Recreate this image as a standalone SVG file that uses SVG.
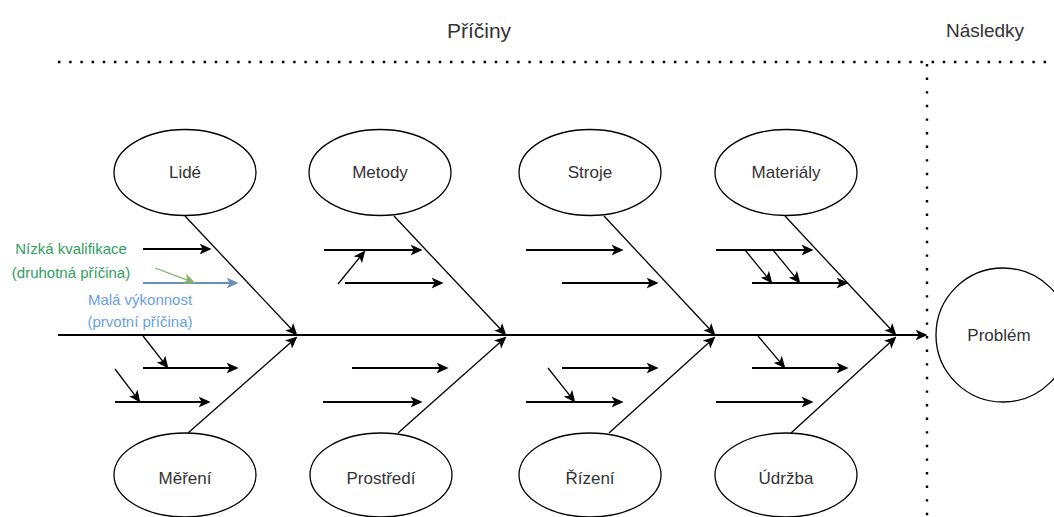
<svg xmlns="http://www.w3.org/2000/svg" width="1054" height="517" viewBox="0 0 1054 517">
<style>
.node{fill:#fff;stroke:#000;stroke-width:1.3}
.lbl{font-family:"Liberation Sans",Arial,sans-serif;font-size:17px;fill:#333;text-anchor:middle}
.hdr{font-family:"Liberation Sans",Arial,sans-serif;fill:#333;text-anchor:middle}
.rib{stroke:#000;stroke-width:1.3;fill:none;marker-end:url(#ab)}
.sub{stroke:#000;stroke-width:2;fill:none;marker-end:url(#ab)}
.dia{stroke:#000;stroke-width:1.3;fill:none;marker-end:url(#ab)}
.dot{stroke:#000;stroke-width:2.4;fill:none}
.note{font-family:"Liberation Sans",Arial,sans-serif;font-size:15px;text-anchor:middle}
</style>
<defs>
<marker id="ab" viewBox="0 0 10 9" markerUnits="userSpaceOnUse" markerWidth="12" markerHeight="11" refX="7" refY="4.5" orient="auto"><path d="M0,0 L10,4.5 L0,9 L2.5,4.5 Z" fill="#000"/></marker>
<marker id="abb" viewBox="0 0 10 9" markerUnits="userSpaceOnUse" markerWidth="12" markerHeight="11" refX="7" refY="4.5" orient="auto"><path d="M0,0 L10,4.5 L0,9 L2.5,4.5 Z" fill="#6C8EBF"/></marker>
<marker id="abg" viewBox="0 0 10 9" markerUnits="userSpaceOnUse" markerWidth="12" markerHeight="11" refX="7" refY="4.5" orient="auto"><path d="M0,0 L10,4.5 L0,9 L2.5,4.5 Z" fill="#82B366"/></marker>
</defs>
<rect width="1054" height="517" fill="#fff"/>
<g id="headers">
<text class="hdr" x="479" y="38" font-size="21">Příčiny</text>
<text class="hdr" x="985" y="37" font-size="19">Následky</text>
<line class="dot" x1="58" y1="62" x2="1054" y2="62" stroke-dasharray="2.4 8.8"/>
<line class="dot" x1="927" y1="64" x2="927" y2="517" stroke-dasharray="2.4 11.2"/>
</g>
<g id="connectors">
<line x1="58" y1="335" x2="924" y2="335" stroke="#000" stroke-width="2" marker-end="url(#ab)"/>
<line class="rib" x1="185" y1="216" x2="294.9" y2="332.8"/>
<line class="rib" x1="188" y1="433" x2="294.7" y2="339"/>
<line class="rib" x1="394" y1="216" x2="503.9" y2="332.8"/>
<line class="rib" x1="398" y1="433" x2="503.8" y2="339"/>
<line class="rib" x1="604" y1="216" x2="713" y2="332.8"/>
<line class="rib" x1="609" y1="433" x2="712.8" y2="339"/>
<line class="rib" x1="785" y1="216" x2="894" y2="332.8"/>
<line class="rib" x1="791" y1="433" x2="893.8" y2="339"/>
<line class="sub" x1="143" y1="249" x2="208" y2="249"/>
<line x1="143" y1="283" x2="235" y2="283" stroke="#6C8EBF" stroke-width="2" marker-end="url(#abb)"/>
<line x1="155" y1="268" x2="192.2" y2="281.9" stroke="#82B366" stroke-width="1.3" marker-end="url(#abg)"/>
<line class="dia" x1="143" y1="336" x2="166.2" y2="365.6"/>
<line class="sub" x1="143" y1="368" x2="235" y2="368"/>
<line class="dia" x1="115" y1="369" x2="138.2" y2="399.6"/>
<line class="sub" x1="115" y1="402" x2="207" y2="402"/>
<line class="sub" x1="324" y1="250" x2="419" y2="250"/>
<line class="sub" x1="345" y1="283" x2="440" y2="283"/>
<line class="dia" x1="338" y1="284" x2="363.1" y2="253.3"/>
<line class="sub" x1="352" y1="368" x2="445" y2="368"/>
<line class="sub" x1="323" y1="402" x2="419" y2="402"/>
<line class="sub" x1="526" y1="250" x2="620" y2="250"/>
<line class="sub" x1="562" y1="283" x2="655" y2="283"/>
<line class="sub" x1="562" y1="368" x2="655" y2="368"/>
<line class="sub" x1="526" y1="402" x2="620" y2="402"/>
<line class="dia" x1="548" y1="368" x2="573.1" y2="399.7"/>
<line class="sub" x1="716" y1="250" x2="810" y2="250"/>
<line class="sub" x1="752" y1="283" x2="845" y2="283"/>
<line class="dia" x1="745" y1="250" x2="770.1" y2="280.7"/>
<line class="dia" x1="773" y1="250" x2="798.1" y2="280.7"/>
<line class="dia" x1="758" y1="336" x2="783.1" y2="365.7"/>
<line class="sub" x1="752" y1="368" x2="845" y2="368"/>
<line class="sub" x1="716" y1="402" x2="810" y2="402"/>
</g>
<g id="notes">
<text class="note" x="71" y="253.5" fill="#2F9E5E">Nízká kvalifikace</text>
<text class="note" x="71" y="277.5" fill="#2F9E5E">(druhotná příčina)</text>
<text class="note" x="140" y="304.5" fill="#6A9FE0">Malá výkonnost</text>
<text class="note" x="140" y="327" fill="#6A9FE0">(prvotní příčina)</text>
</g>
<g id="lide"><ellipse class="node" cx="185" cy="172.5" rx="71" ry="43"/><text class="lbl" x="185" y="178">Lidé</text></g>
<g id="metody"><ellipse class="node" cx="380" cy="172.5" rx="71" ry="43"/><text class="lbl" x="380" y="178">Metody</text></g>
<g id="stroje"><ellipse class="node" cx="590" cy="172.5" rx="71" ry="43"/><text class="lbl" x="590" y="178">Stroje</text></g>
<g id="materialy"><ellipse class="node" cx="786" cy="172.5" rx="71" ry="43"/><text class="lbl" x="786" y="178">Materiály</text></g>
<g id="mereni"><ellipse class="node" cx="185" cy="475" rx="71" ry="42"/><text class="lbl" x="185" y="484">Měření</text></g>
<g id="prostredi"><ellipse class="node" cx="381" cy="475" rx="71" ry="42"/><text class="lbl" x="381" y="484">Prostředí</text></g>
<g id="rizeni"><ellipse class="node" cx="590" cy="475" rx="71" ry="42"/><text class="lbl" x="590" y="484">Řízení</text></g>
<g id="udrzba"><ellipse class="node" cx="786" cy="475" rx="71" ry="42"/><text class="lbl" x="786" y="484">Údržba</text></g>
<g id="problem"><circle class="node" cx="1003" cy="335" r="67"/><text class="lbl" x="999" y="341">Problém</text></g>
</svg>
